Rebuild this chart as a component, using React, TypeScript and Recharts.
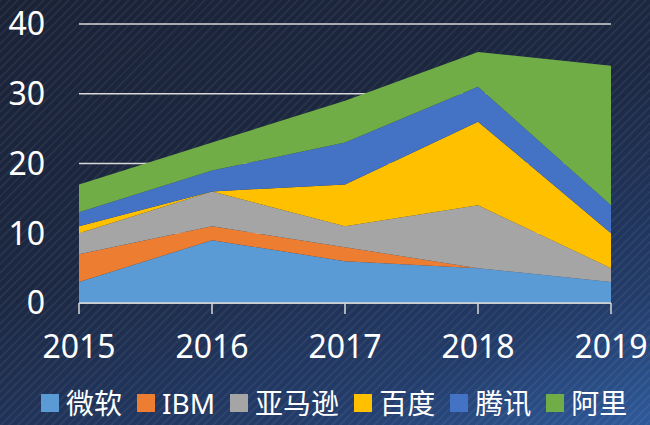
import React from 'react';
import { AreaChart, Area, XAxis, YAxis, CartesianGrid, Legend } from 'recharts';

const years = ['2015', '2016', '2017', '2018', '2019'];
const microsoft = [3, 9, 6, 5, 3];
const ibm = [4, 2, 2, 0, 0];
const amazon = [3, 5, 3, 9, 2];
const baidu = [1, 0, 6, 12, 5];
const tencent = [2, 3, 6, 5, 4];
const alibaba = [4, 4, 6, 5, 20];
const yTicks = [0, 10, 20, 30, 40];

const series = [
  { key: 'ms', name: '微软', values: microsoft, color: '#5B9BD5' },
  { key: 'ibm', name: 'IBM', values: ibm, color: '#ED7D31' },
  { key: 'amz', name: '亚马逊', values: amazon, color: '#A5A5A5' },
  { key: 'bd', name: '百度', values: baidu, color: '#FFC000' },
  { key: 'tx', name: '腾讯', values: tencent, color: '#4472C4' },
  { key: 'ali', name: '阿里', values: alibaba, color: '#70AD47' },
];

const data = years.map((y, i) => {
  const row: Record<string, string | number> = { year: y };
  series.forEach((s) => {
    row[s.key] = s.values[i];
  });
  return row;
});

const FONT = "'Noto Sans', 'Noto Sans CJK SC', sans-serif";

const renderLegend = () => (
  <div
    style={{
      display: 'flex',
      alignItems: 'center',
      height: 28,
      paddingLeft: 41,
      fontFamily: FONT,
      fontSize: 28,
      color: '#ffffff',
      whiteSpace: 'nowrap',
    }}
  >
    {series.map((s) => (
      <div key={s.key} style={{ display: 'flex', alignItems: 'center', marginRight: 15 }}>
        <span style={{ display: 'block', width: 18, height: 18, background: s.color, marginRight: 7 }} />
        <span style={{ display: 'block', lineHeight: '28px', height: 28 }}>{s.name}</span>
      </div>
    ))}
  </div>
);

export default function App() {
  return (
    <div
      style={{
        position: 'fixed',
        left: 0,
        top: 0,
        width: 650,
        height: 425,
        overflow: 'hidden',
        background:
          'repeating-linear-gradient(135deg, rgba(255,255,255,0.05) 0px, rgba(255,255,255,0.05) 2px, rgba(0,0,0,0) 2px, rgba(0,0,0,0) 6px), linear-gradient(160deg, #1a2237 0%, #1c2842 45%, #233c6a 80%, #2e5a9a 100%)',
      }}
    >
      <AreaChart
        width={650}
        height={425}
        data={data}
        margin={{ top: 24, right: 39, left: 0, bottom: 0 }}
      >
        <CartesianGrid horizontal vertical={false} stroke="#d9d9d9" strokeWidth={1.5} />
        <XAxis
          dataKey="year"
          height={94}
          axisLine={{ stroke: '#d9d9d9', strokeWidth: 1.5 }}
          tickLine={{ stroke: '#d9d9d9', strokeWidth: 1.5 }}
          tickSize={11}
          tickMargin={21}
          interval={0}
          tick={{ fill: '#ffffff', fontSize: 32, fontFamily: FONT }}
        />
        <YAxis
          width={79}
          domain={[0, 40]}
          ticks={yTicks}
          axisLine={false}
          tickLine={false}
          tickSize={0}
          tickMargin={34}
          tick={{ fill: '#ffffff', fontSize: 32, fontFamily: FONT }}
        />
        {series.map((s) => (
          <Area
            key={s.key}
            type="linear"
            dataKey={s.key}
            name={s.name}
            stackId="1"
            stroke="none"
            fill={s.color}
            fillOpacity={1}
            isAnimationActive={false}
          />
        ))}
        <Legend
          verticalAlign="bottom"
          align="left"
          content={renderLegend}
          wrapperStyle={{ left: 0, width: 650, bottom: 8 }}
        />
      </AreaChart>
    </div>
  );
}
